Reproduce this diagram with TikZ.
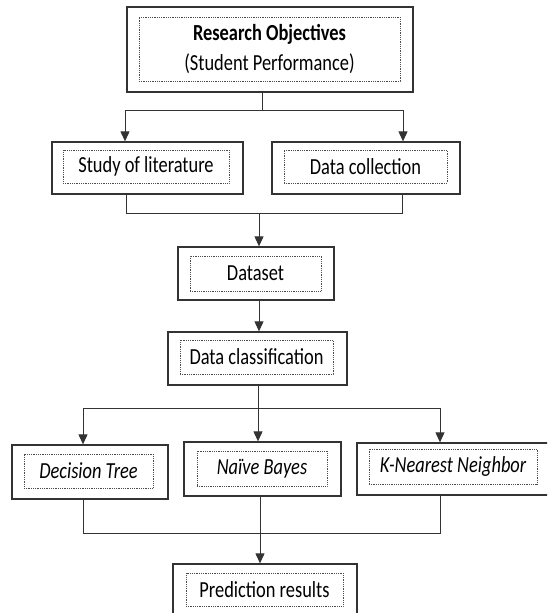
\documentclass[tikz,border=0pt]{standalone}
\usepackage{fontspec}
\setmainfont{Carlito}[FakeStretch=0.8]
\usepackage{tikz}
\usetikzlibrary{arrows.meta}

\tikzset{
  outbox/.style={draw=black!80,line width=1.3pt,fill=white,minimum width=#1,minimum height=53pt,inner sep=0pt},
  dotbox/.style={draw=black!70,densely dotted,line width=0.8pt,minimum width=#1,minimum height=34pt,inner sep=0pt,
    font=\fontsize{23}{30}\selectfont},
  line/.style={draw=black!80,line width=1pt},
  arr/.style={line,-{Triangle[length=10pt,width=9pt]}}
}

\begin{document}
\begin{tikzpicture}[x=1pt,y=-1pt]
\useasboundingbox (0,0) rectangle (547,613);
\clip (0,0) rectangle (547,613);

% boxes
\node[outbox=286pt,minimum height=85pt] (obj) at (270,49.5) {};
\node[dotbox=261pt,minimum height=64pt,align=center] (objin) at (269.5,49) {\textbf{Research Objectives}\\(Student\ Performance)};

\node[outbox=191pt,minimum height=52pt] (lit) at (147.5,168) {};
\node[dotbox=166pt,minimum height=33pt] (litin) at (146,166.5) {Study of literature};
\node[outbox=188pt,minimum height=52pt] (col) at (366,168) {};
\node[dotbox=163pt,minimum height=33pt] (colin) at (365.5,166.5) {Data collection};

\node[outbox=156pt] (dataset) at (256,273.5) {};
\node[dotbox=131pt,minimum height=35pt] (datasetin) at (255.5,273.5) {Dataset};

\node[outbox=179pt] (class) at (257.5,358.5) {};
\node[dotbox=153pt] (classin) at (256.5,357) {Data classification};

\node[outbox=156pt,minimum height=54pt] (dt) at (90,472) {};
\node[dotbox=129pt] (dtin) at (88.5,471) {\itshape Decision Tree};
\node[outbox=157pt,minimum height=54pt] (nb) at (262.5,469) {};
\node[dotbox=130pt,minimum height=35pt] (nbin) at (262,468.5) {\itshape Naïve Bayes};
\node[outbox=192pt,minimum height=52pt] (knn) at (453,469) {};
\node[dotbox=168pt,minimum height=35pt] (knnin) at (453,466.5) {\itshape K-Nearest Neighbor};

\node[outbox=184pt,minimum height=52pt] (pred) at (265,590) {};
\node[dotbox=157pt,minimum height=33pt] (predin) at (264.5,589.5) {Prediction results};

% connectors
\draw[line] ([xshift=-8pt]obj.south) -- ++(0,18) coordinate (j1);
\draw[arr] (j1) -| ([xshift=-22.5pt]lit.north);
\draw[arr] (j1) -| ([xshift=37pt]col.north);

\draw[line] ([xshift=-21.5pt]lit.south) -- ++(0,19) -| ([xshift=36pt]col.south);
\coordinate (j2) at (259,213);
\draw[arr] (j2) -- ([xshift=3pt]dataset.north);

\draw[arr] ([xshift=3pt]dataset.south) -- ([xshift=1.5pt]class.north);

\draw[line] ([xshift=0.5pt]class.south) -- ++(0,23) coordinate (j3);
\draw[arr] (j3) -| ([xshift=-7pt]dt.north);
\draw[arr] (j3) -| ([xshift=-13pt]knn.north);
\draw[arr] (j3) -- ([xshift=-4.5pt]nb.north);

\draw[line] ([xshift=-7pt]dt.south) -- ++(0,34) -| ([xshift=-13pt]knn.south);
\draw[arr] ([xshift=-2.5pt]nb.south) -- ([xshift=-5pt]pred.north);
\end{tikzpicture}
\end{document}
